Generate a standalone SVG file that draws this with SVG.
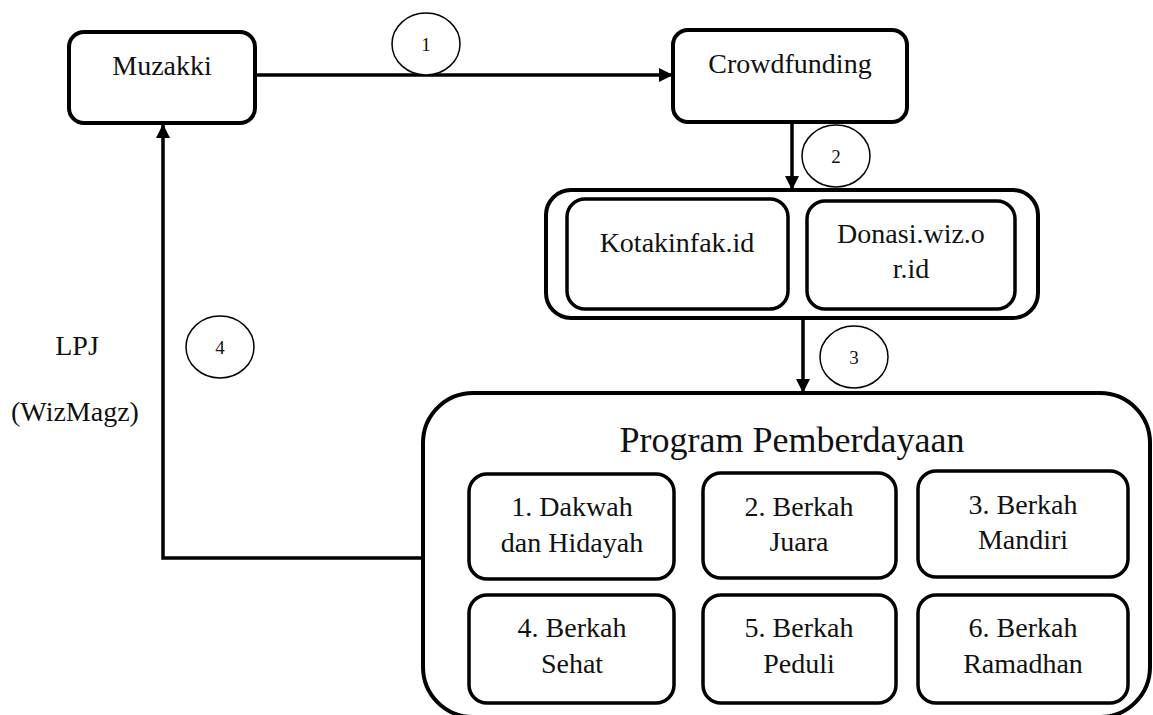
<svg xmlns="http://www.w3.org/2000/svg" width="1153" height="715" viewBox="0 0 1153 715">
<style>
.box{fill:#fff;stroke:#000;stroke-width:4}
.inner{fill:#fff;stroke:#000;stroke-width:3.5}
text{font-family:'Liberation Serif','Times New Roman','DejaVu Serif',serif;fill:#111;text-anchor:middle}
.t{font-size:28px}
.big{font-size:36px}
.num{font-size:19px}
.circ{fill:#fff;stroke:#000;stroke-width:1.5}
.conn{fill:none;stroke:#000;stroke-width:3.5}
</style>
<defs>
<marker id="ah" viewBox="0 0 10 10" refX="10" refY="5" markerWidth="14" markerHeight="14" markerUnits="userSpaceOnUse" orient="auto">
<path d="M0,0 L10,5 L0,10 Z" fill="#000"/>
</marker>
</defs>
<rect width="1153" height="715" fill="#fff"/>
<g id="connectors">
<line class="conn" x1="255" y1="75" x2="673" y2="75" marker-end="url(#ah)"/>
<line class="conn" x1="792" y1="122" x2="792" y2="190" marker-end="url(#ah)"/>
<line class="conn" x1="803" y1="318" x2="803" y2="393" marker-end="url(#ah)"/>
<polyline class="conn" points="423,558 163,558 163,124" marker-end="url(#ah)"/>
</g>
<g font-family="Liberation Serif, serif">
<g id="label-1"><ellipse class="circ" cx="426" cy="44" rx="34" ry="31"/><text class="num" x="426" y="51" font-family="Liberation Serif, serif">1</text></g>
<g id="label-2"><ellipse class="circ" cx="836" cy="156" rx="34" ry="31"/><text class="num" x="836" y="163" font-family="Liberation Serif, serif">2</text></g>
<g id="label-3"><ellipse class="circ" cx="854" cy="357" rx="34" ry="31"/><text class="num" x="854" y="364" font-family="Liberation Serif, serif">3</text></g>
<g id="label-4"><ellipse class="circ" cx="220" cy="347" rx="34" ry="31"/><text class="num" x="220" y="354" font-family="Liberation Serif, serif">4</text></g>
<g id="lpj"><text class="t" x="77" y="355">LPJ</text><text class="t" x="75" y="421">(WizMagz)</text></g>
<g id="muzakki"><rect class="box" x="69" y="32" width="186" height="91" rx="15"/><text class="t" x="162" y="75">Muzakki</text></g>
<g id="crowdfunding"><rect class="box" x="673" y="30" width="234" height="92" rx="15"/><text class="t" x="790" y="73">Crowdfunding</text></g>
<g id="platforms">
<rect class="box" x="546" y="190" width="492" height="128" rx="25"/>
<g id="kotakinfak"><rect class="inner" x="567" y="199" width="221" height="110" rx="18"/><text class="t" x="677" y="252">Kotakinfak.id</text></g>
<g id="donasi"><rect class="inner" x="807" y="201" width="208" height="108" rx="18"/><text class="t" x="911" y="243">Donasi.wiz.o</text><text class="t" x="911" y="278">r.id</text></g>
</g>
<g id="program">
<rect class="box" x="423" y="393" width="727" height="324" rx="50"/>
<text class="big" x="792" y="452">Program Pemberdayaan</text>
<g id="p1"><rect class="inner" x="469" y="474" width="205" height="105" rx="18"/><text class="t" x="572" y="516">1. Dakwah</text><text class="t" x="572" y="552">dan Hidayah</text></g>
<g id="p2"><rect class="inner" x="703" y="473" width="193" height="105" rx="18"/><text class="t" x="799" y="516">2. Berkah</text><text class="t" x="799" y="551">Juara</text></g>
<g id="p3"><rect class="inner" x="918" y="471" width="210" height="106" rx="18"/><text class="t" x="1023" y="514">3. Berkah</text><text class="t" x="1023" y="549">Mandiri</text></g>
<g id="p4"><rect class="inner" x="469" y="595" width="205" height="108" rx="18"/><text class="t" x="572" y="637">4. Berkah</text><text class="t" x="572" y="673">Sehat</text></g>
<g id="p5"><rect class="inner" x="703" y="595" width="193" height="108" rx="18"/><text class="t" x="799" y="637">5. Berkah</text><text class="t" x="799" y="673">Peduli</text></g>
<g id="p6"><rect class="inner" x="918" y="595" width="210" height="108" rx="18"/><text class="t" x="1023" y="637">6. Berkah</text><text class="t" x="1023" y="673">Ramadhan</text></g>
</g>
</g>
</svg>
